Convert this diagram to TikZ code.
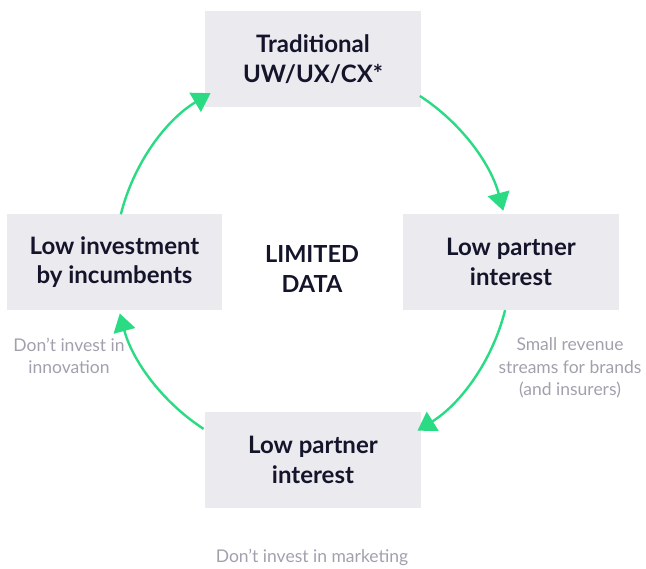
\documentclass[tikz,border=0pt]{standalone}
\usepackage{fontspec}
\setmainfont{Lato}
\usetikzlibrary{arrows.meta,calc}
\definecolor{boxfill}{HTML}{EBEAEF}
\definecolor{darktext}{HTML}{14142B}
\definecolor{arrowgreen}{HTML}{2ADB84}
\definecolor{graytext}{HTML}{A3A0AD}
\tikzset{
  cyclebox/.style={fill=boxfill, minimum width=216pt, minimum height=96pt, inner sep=0pt,
    align=center, text=darktext, font=\fontsize{24}{29.5}\selectfont\bfseries},
  centertext/.style={align=center, text=darktext, font=\fontsize{23.5}{29.5}\selectfont\bfseries},
  note/.style={align=center, text=graytext, font=\fontsize{17.5}{22.5}\selectfont},
  cyclearrow/.style={draw=arrowgreen, line width=2.4pt, -{Triangle[length=18pt,width=22pt]}}
}
\begin{document}
\begin{tikzpicture}[x=1pt,y=1pt]
\useasboundingbox (0,0) rectangle (646,569);
\node[cyclebox] (top) at (313,510) {Traditional\\UW/UX/CX*};
\node[cyclebox] (right) at (511,307) {Low partner\\interest};
\node[cyclebox] (bottom) at (313,109) {Low partner\\interest};
\node[cyclebox, minimum width=215pt] (left) at (114.5,307) {Low investment\\by incumbents};
\node[centertext] (mid) at (312,300) {LIMITED\\DATA};
\node[note] (n1) at (570,201) {Small revenue\\streams for brands\\(and insurers)};
\node[note] (n2) at (69,213) {Don’t invest in\\innovation};
\node[note] (n3) at (312,12) {Don’t invest in marketing};
\coordinate (c) at (312,307);
\coordinate (s1) at ($(c)+(57:198)$);
\coordinate (s2) at ($(c)+(-14:199)$);
\coordinate (s3) at ($(c)+(237:199)$);
\coordinate (s4) at ($(c)+(166:197)$);
\draw[cyclearrow] (s1) arc[start angle=57, end angle=15, radius=198];
\draw[cyclearrow] (s2) arc[start angle=-14, end angle=-58, radius=199];
\draw[cyclearrow] (s3) arc[start angle=237, end angle=195, radius=199];
\draw[cyclearrow] (s4) arc[start angle=166, end angle=121, radius=197];
\end{tikzpicture}
\end{document}
